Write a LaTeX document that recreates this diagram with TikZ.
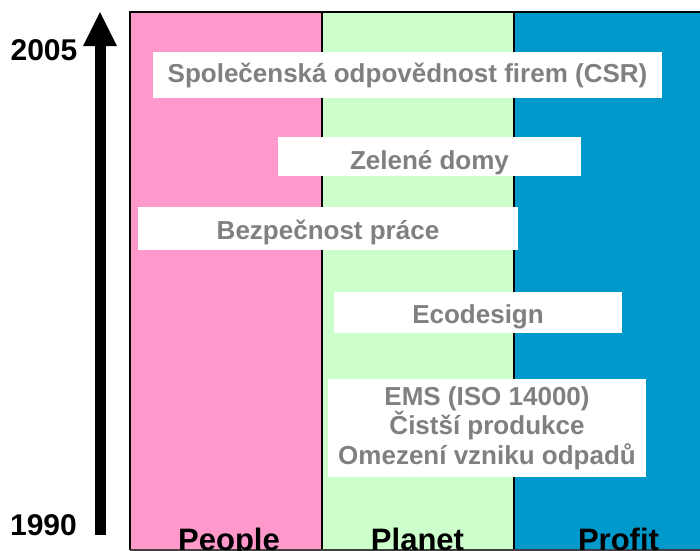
\documentclass[tikz,border=0pt]{standalone}
\usepackage{fontspec}
\setmainfont{Liberation Sans}
\definecolor{pinkc}{HTML}{FF99CC}
\definecolor{greenc}{HTML}{CCFFCC}
\definecolor{bluec}{HTML}{0099CC}
\definecolor{txtgray}{HTML}{808080}
\begin{document}
\begin{tikzpicture}[x=1pt,y=-1pt,
  item/.style={fill=white,draw=none,font=\bfseries\fontsize{26}{29.7}\selectfont,text=txtgray,align=center,inner sep=0pt},
  year/.style={font=\bfseries\fontsize{30}{34}\selectfont,text=black,inner sep=0pt},
  colname/.style={font=\bfseries\fontsize{31}{34}\selectfont,text=black,inner sep=0pt,anchor=base}]
\useasboundingbox (0,0) rectangle (700,550);
\clip (0,0) rectangle (700,550);
% columns
\fill[pinkc] (130,12) rectangle (322,560);
\fill[greenc] (322,12) rectangle (514,560);
\fill[bluec] (514,12) rectangle (710,560);
\draw[line width=2pt] (130,550) -- (130,12) -- (710,12);
\draw[line width=2pt] (322,12) -- (322,550);
\draw[line width=2pt] (514,12) -- (514,550);
\draw[line width=1.5pt,black!75] (130,550) -- (710,550);
% boxes
\node[item,minimum width=509,minimum height=46,text height=15pt,text depth=0pt] (csr) at (407.5,75) {Společenská odpovědnost firem (CSR)};
\node[item,minimum width=303,minimum height=39,text height=25pt,text depth=0pt] (zd) at (429.5,156.5) {Zelené domy};
\node[item,minimum width=380,minimum height=43,text height=21pt,text depth=0pt] (bp) at (328,228.7) {Bezpečnost práce};
\node[item,minimum width=288,minimum height=41,text height=21pt,text depth=0pt] (eco) at (478,312.5) {Ecodesign};
\node[item,minimum width=318,minimum height=98] (ems) at (487,428) {EMS (ISO 14000)\\Čistší produkce\\Omezení vzniku odpadů};
% column names
\node[colname] (people) at (229,550.5) {People};
\node[colname] (planet) at (417.5,550.5) {Planet};
\node[colname] (profit) at (618.5,550.5) {Profit};
% time arrow
\coordinate (abot) at (100,535);
\coordinate (atop) at (100,12);
\draw[line width=11pt] (abot) -- (100,44);
\fill (83,46) -- (atop) -- (117,46) -- cycle;
\node[year] (y2005) at (44,50.5) {2005};
\node[year] (y1990) at (43.5,525) {1990};
\end{tikzpicture}
\end{document}
